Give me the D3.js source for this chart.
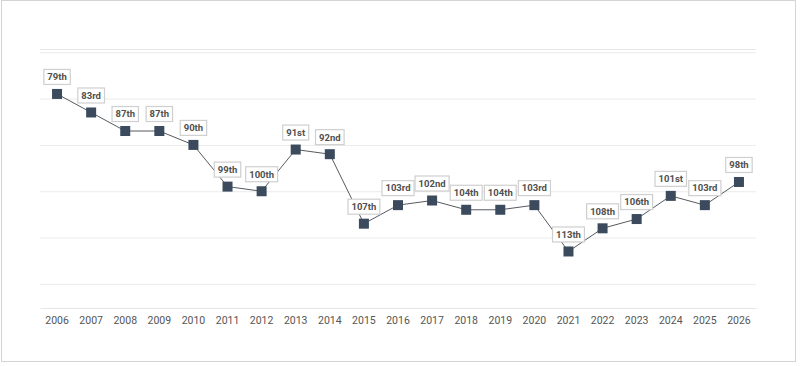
<!DOCTYPE html>
<html>
<head>
<meta charset="utf-8">
<script src="https://cdn.jsdelivr.net/npm/d3@7"></script>
<style>
  html, body { margin: 0; padding: 0; background: #fff; }
  svg { display: block; font-family: Roboto, sans-serif; }
</style>
</head>
<body>
<div id="chart"></div>
<script>
// ranking by year (lower number = better, axis reversed)
const years = ['2006','2007','2008','2009','2010','2011','2012','2013','2014','2015','2016',
               '2017','2018','2019','2020','2021','2022','2023','2024','2025','2026'];
const ranks = [79, 83, 87, 87, 90, 99, 100, 91, 92, 107, 103, 102, 104, 104, 103, 113, 108, 106, 101, 103, 98];
const rankLabels = ['79th','83rd','87th','87th','90th','99th','100th','91st','92nd','107th','103rd',
                    '102nd','104th','104th','103rd','113th','108th','106th','101st','103rd','98th'];
const gridTicks = [70, 80, 90, 100, 110, 120];

const W = 800, H = 366;
const plot = { left: 40, right: 756, top: 49, bottom: 308 };

const svg = d3.select('#chart').append('svg')
  .attr('width', W).attr('height', H);

// outer frame
svg.append('rect')
  .attr('x', 1.5).attr('y', 0.5)
  .attr('width', 794).attr('height', 361)
  .attr('fill', '#fff').attr('stroke', '#d4d4d4');

const x = d3.scaleBand()
  .domain(years)
  .range([plot.left, plot.right]);

const y = d3.scaleLinear()
  .domain([69.3, 125.2])
  .range([plot.top, plot.bottom]);

// grid lines
svg.append('g')
  .attr('transform', `translate(${plot.left},0)`)
  .call(d3.axisLeft(y).tickValues(gridTicks).tickSize(-(plot.right - plot.left)).tickFormat(''))
  .call(g => g.select('.domain').remove())
  .call(g => g.selectAll('line').attr('stroke', '#ebebeb'));

// top edge line
svg.append('line')
  .attr('x1', plot.left).attr('x2', plot.right)
  .attr('y1', y(69.3) + 0.5).attr('y2', y(69.3) + 0.5)
  .attr('stroke', '#e8e8e8');

// bottom axis
svg.append('g')
  .attr('transform', `translate(0,${plot.bottom})`)
  .call(d3.axisBottom(x).tickSize(0).tickPadding(9))
  .call(g => g.select('.domain').attr('stroke', '#e6e6e6'))
  .call(g => g.selectAll('text')
    .style('font-family', 'Roboto, sans-serif')
    .style('font-size', '10.5px')
    .attr('fill', '#555'));

const pts = years.map((yr, i) => ({ yr, r: ranks[i], lab: rankLabels[i] }));
const cx = d => x(d.yr) + x.bandwidth() / 2;

// line
svg.append('path')
  .datum(pts)
  .attr('fill', 'none')
  .attr('stroke', '#555a60')
  .attr('stroke-width', 1)
  .attr('d', d3.line().x(cx).y(d => y(d.r)));

// markers
svg.selectAll('.mk')
  .data(pts)
  .join('rect')
  .attr('class', 'mk')
  .attr('x', d => cx(d) - 5)
  .attr('y', d => y(d.r) - 5)
  .attr('width', 10).attr('height', 10)
  .attr('fill', '#3b4b5d');

// data labels
const lg = svg.selectAll('.lbl')
  .data(pts)
  .join('g')
  .attr('class', 'lbl')
  .attr('transform', d => `translate(${cx(d)},${y(d.r) - 17})`);

lg.append('rect')
  .attr('fill', '#fff')
  .attr('stroke', '#cfcfcf')
  .attr('stroke-width', 1.2);

const txt = lg.append('text')
  .attr('text-anchor', 'middle')
  .attr('dy', '0.35em')
  .style('font-size', '9.5px')
  .style('font-weight', 'bold')
  .attr('fill', '#505050')
  .text(d => d.lab);

txt.each(function() {
  const w = this.getComputedTextLength();
  d3.select(this.previousSibling)
    .attr('x', -w / 2 - 3.5).attr('y', -7.5)
    .attr('width', w + 7).attr('height', 15);
});
</script>
</body>
</html>
